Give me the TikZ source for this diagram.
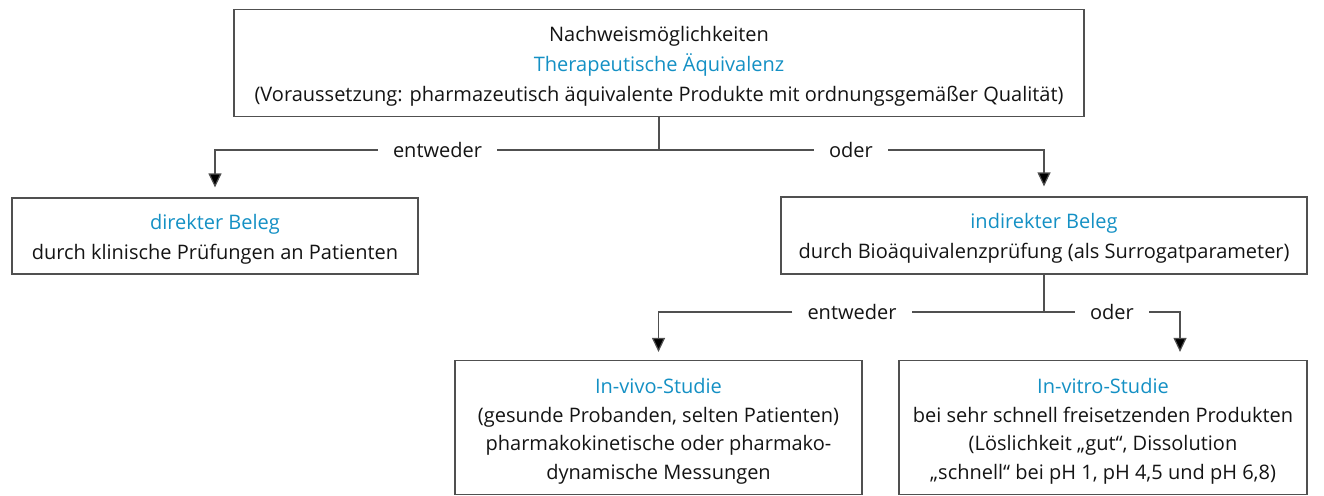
\documentclass[tikz,border=0pt]{standalone}
\usepackage{fontspec}
\setmainfont{Open Sans}
\usetikzlibrary{arrows.meta}
\definecolor{hblue}{RGB}{20,144,196}
\definecolor{lgray}{RGB}{80,80,80}
\definecolor{tgray}{RGB}{20,20,20}
\newcommand{\topstrut}[1]{\rule{0pt}{#1}}
\begin{document}
\begin{tikzpicture}[x=1pt,y=-1pt,
  box/.style={draw=lgray,line width=1.2pt,align=center,inner sep=0pt,
    font=\fontsize{20}{30}\selectfont,text=tgray},
  lbl/.style={inner xsep=15pt,inner ysep=2pt,font=\fontsize{20}{22}\selectfont,text=tgray},
  con/.style={draw=lgray,line width=1.2pt},
  arr/.style={con,-{Triangle[width=13pt,length=14pt,fill=black]},shorten >=10pt}]
\useasboundingbox (0,0) rectangle (1324,495);
\node[box,minimum width=850pt,minimum height=107pt] (top) at (659,63)
  {\topstrut{22pt}Nachweismöglichkeiten\\ \textcolor{hblue}{Therapeutische Äquivalenz}\\
   (Voraussetzung: pharmazeutisch äquivalente Produkte mit ordnungsgemäßer Qualität)};
\node[box,minimum width=406pt,minimum height=76pt] (dir) at (215,236)
  {\topstrut{21pt}\textcolor{hblue}{direkter Beleg}\\ durch klinische Prüfungen an Patienten};
\node[box,minimum width=526pt,minimum height=77pt] (ind) at (1044,235.5)
  {\topstrut{21pt}\textcolor{hblue}{indirekter Beleg}\\ durch Bioäquivalenzprüfung (als Surrogatparameter)};
\node[box,minimum width=407pt,minimum height=134pt,font=\fontsize{20}{28.5}\selectfont] (vivo) at (658.5,427.5)
  {\topstrut{23pt}\textcolor{hblue}{In-vivo-Studie}\\ (gesunde Probanden, selten Patienten)\\
   pharmakokinetische oder pharmako-\\ dynamische Messungen};
\node[box,minimum width=408pt,minimum height=134pt,font=\fontsize{20}{28.5}\selectfont] (vitro) at (1103,427.5)
  {\topstrut{23pt}\textcolor{hblue}{In-vitro-Studie}\\ bei sehr schnell freisetzenden Produkten\\
   (Löslichkeit „gut“, Dissolution\\ „schnell“ bei pH 1, pH 4,5 und pH 6,8)};
% first level
\coordinate (j1) at (659,150);
\node[lbl] (e1) at (437.5,150) {entweder};
\node[lbl] (o1) at (851,150) {oder};
\draw[con] (top) -- (j1);
\draw[con] (j1) -- (e1);
\draw[con] (j1) -- (o1);
\draw[arr] (e1) -| (dir);
\draw[arr] (o1) -| (ind);
% second level
\coordinate (j2) at (1044,312);
\coordinate (vt) at ([xshift=77pt]vitro.north);
\node[lbl] (e2) at (852,312) {entweder};
\node[lbl] (o2) at (1112,312) {oder};
\draw[con] (ind) -- (j2);
\draw[con] (j2) -- (e2);
\draw[con] (j2) -- (o2);
\draw[arr,shorten >=8pt] (e2) -| (vivo);
\draw[arr,shorten >=8pt] (o2) -| (vt);
\end{tikzpicture}
\end{document}
